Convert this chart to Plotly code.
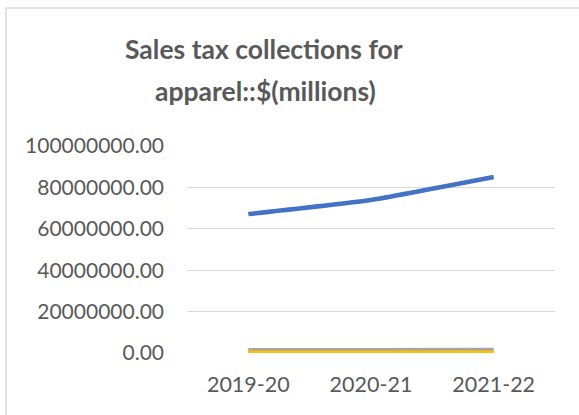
import plotly.graph_objects as go

categories = ["2019-20", "2020-21", "2021-22"]
series_names = ["Series1", "Series2", "Series3", "Series4"]
series1 = [67100000, 73900000, 85000000]
series2 = [0, 0, 0]
series3 = [1300000, 1350000, 1500000]
series4 = [150000, 150000, 150000]
colors = ["#4472C4", "#ED7D31", "#A5A5A5", "#FFC000"]
y_ticks = [0, 20000000, 40000000, 60000000, 80000000, 100000000]

W, H = 579, 415
L, R, T, B = 187, 24, 146, 62
pw, ph = W - L - R, H - T - B

fig = go.Figure()
for name, vals, col in zip(series_names, [series1, series2, series3, series4], colors):
    fig.add_trace(go.Scatter(x=categories, y=vals, mode="lines", name=name,
                             line=dict(color=col, width=4.5, shape="spline", smoothing=0.4)))

def px_x(p):
    return (p - L) / pw

def px_y(p):
    return (H - B - p) / ph

fig.add_shape(type="rect", xref="paper", yref="paper",
              x0=px_x(6), x1=px_x(W + 20), y0=px_y(8), y1=px_y(H + 20),
              line=dict(color="#D9D9D9", width=1.5), fillcolor="rgba(0,0,0,0)", layer="below")

title_font = dict(family="Lato", size=26.5, color="#595959")
fig.add_annotation(text="<b>Sales tax collections for</b>", xref="paper", yref="paper",
                   x=px_x(264), y=px_y(49), showarrow=False, font=title_font,
                   xanchor="center", yanchor="middle")
fig.add_annotation(text="<b>apparel::$(millions)</b>", xref="paper", yref="paper",
                   x=px_x(265), y=px_y(91), showarrow=False, font=title_font,
                   xanchor="center", yanchor="middle")

fig.update_layout(
    width=W, height=H,
    margin=dict(l=L, r=R, t=T, b=B, autoexpand=False),
    paper_bgcolor="white", plot_bgcolor="white",
    showlegend=False,
    font=dict(family="Lato", color="#595959"),
)
fig.update_xaxes(type="category", showgrid=False, showline=False, zeroline=False,
                 ticks="", tickfont=dict(size=21.5, color="#595959"), ticklabelstandoff=16,
                 range=[-0.5, 2.5])
fig.update_yaxes(range=[0, 100000000], tickvals=y_ticks, tickformat=".2f",
                 showgrid=True, gridcolor="#D9D9D9", gridwidth=1.3, zeroline=False,
                 showline=False, ticks="", tickfont=dict(size=21, color="#595959"),
                 ticklabelstandoff=22)

fig.write_html("out.html")
